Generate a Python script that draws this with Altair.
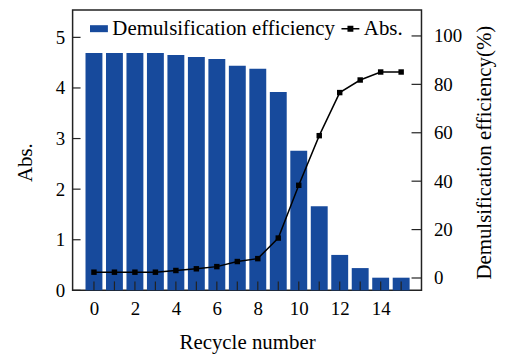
import altair as alt
import pandas as pd

# ---- data ----
recycle = list(range(16))
bar_vals = [4.69, 4.69, 4.69, 4.69, 4.65, 4.61, 4.57, 4.44, 4.38, 3.92,
            2.76, 1.66, 0.70, 0.44, 0.25, 0.25]
line_vals = [2.4, 2.4, 2.4, 2.4, 3.1, 3.8, 4.7, 6.8, 8.0, 16.5,
             38.3, 58.8, 76.6, 81.8, 85.1, 85.1]
series = ["Demulsification efficiency", "Abs."]
x_label_vals = [0, 2, 4, 6, 8, 10, 12, 14]
left_ticks = [0, 1, 2, 3, 4, 5]
right_ticks = [0, 20, 40, 60, 80, 100]

W, H = 351, 282
FONT = "Liberation Serif"
BLUE = "#174a9c"

df = pd.DataFrame({"r": recycle, "bar": bar_vals, "line": line_vals})
xt = pd.DataFrame({"r": recycle})
lt = pd.DataFrame({"v": left_ticks})
rt = pd.DataFrame({"v": right_ticks})
leg = pd.DataFrame({"series": series})

xscale = alt.Scale(domain=[-0.8, 15.75], nice=False, zero=False)
yl = alt.Scale(domain=[0, 5.54], nice=False, zero=False)
yr = alt.Scale(domain=[-5.1, 110.7], nice=False, zero=False)

x_axis = alt.Axis(values=x_label_vals, ticks=False, domain=False, grid=False,
                  labelFontSize=19, labelPadding=9, title="Recycle number",
                  titleFontSize=21, titleY=53, titleBaseline="middle", format="d")

bars = alt.Chart(df).mark_bar(size=17, color=BLUE).encode(
    x=alt.X("r:Q", scale=xscale, axis=x_axis),
    y=alt.Y("bar:Q", scale=yl,
            axis=alt.Axis(values=left_ticks, ticks=False, domain=False, grid=False,
                          labelFontSize=19, labelPadding=8, title="Abs.", format="d",
                          titleFontSize=21, titleAngle=270, titleX=-47, titleY=153,
                          titleAlign="center", titleBaseline="middle")),
)

xticks = alt.Chart(xt).mark_rule(color="#222", strokeWidth=1.2).encode(
    x=alt.X("r:Q", scale=xscale),
    y=alt.value(H), y2=alt.value(H - 9),
)

lticks = alt.Chart(lt).mark_rule(color="#222", strokeWidth=1.2).encode(
    x=alt.value(0), x2=alt.value(8),
    y=alt.Y("v:Q", scale=yl),
)

left_group = alt.layer(bars, xticks, lticks)

line = alt.Chart(df).mark_line(color="black", strokeWidth=1.5).encode(
    x=alt.X("r:Q", scale=xscale),
    y=alt.Y("line:Q", scale=yr,
            axis=alt.Axis(orient="right", values=right_ticks, ticks=False, domain=False,
                          grid=False, labelFontSize=19, labelPadding=12, format="d",
                          title="Demulsification efficiency(%)", titleFontSize=21,
                          titleAngle=270, titleX=63, titleY=143,
                          titleAlign="center", titleBaseline="middle")),
)
pts = alt.Chart(df).mark_square(size=30, color="black", opacity=1).encode(
    x=alt.X("r:Q", scale=xscale),
    y=alt.Y("line:Q", scale=yr),
)
rticks = alt.Chart(rt).mark_rule(color="#222", strokeWidth=1.2).encode(
    x=alt.value(W - 10), x2=alt.value(W),
    y=alt.Y("v:Q", scale=yr),
)
right_group = alt.layer(line, pts, rticks)

legend = alt.Legend(orient="none", legendX=16, legendY=8, direction="horizontal",
                    title=None, symbolOpacity=1, symbolSize=324, symbolStrokeWidth=0,
                    labelFont=FONT, labelFontWeight="normal",
                    labelFontSize=21, labelColor="black",
                    labelOffset=3, columnPadding=4, labelLimit=0, padding=0)
shape_range = ["M-1,-0.39H1V0.39H-1Z",
               "M-1,-0.09H1V0.09H-1Z M-0.33,-0.33H0.33V0.33H-0.33Z"]
leg_layer = alt.Chart(leg).mark_point(filled=True, opacity=0, size=324).encode(
    x=alt.value(0), y=alt.value(0),
    color=alt.Color("series:N", scale=alt.Scale(domain=series, range=[BLUE, "black"]),
                    legend=legend),
    shape=alt.Shape("series:N", scale=alt.Scale(domain=series, range=shape_range),
                    legend=legend),
)

chart = alt.layer(left_group, right_group, leg_layer).resolve_scale(
    y="independent"
).properties(
    width=W, height=H,
    padding={"left": 65, "top": 1, "right": 80, "bottom": 65},
    autosize=alt.AutoSizeParams(type="none"),
).configure_view(
    stroke="#222", strokeWidth=1.5
).configure_axis(
    labelFont=FONT, titleFont=FONT, labelColor="black", titleColor="black",
    titleFontWeight="normal"
)

chart.save("out.html", embed_options={"renderer": "svg", "actions": False})
